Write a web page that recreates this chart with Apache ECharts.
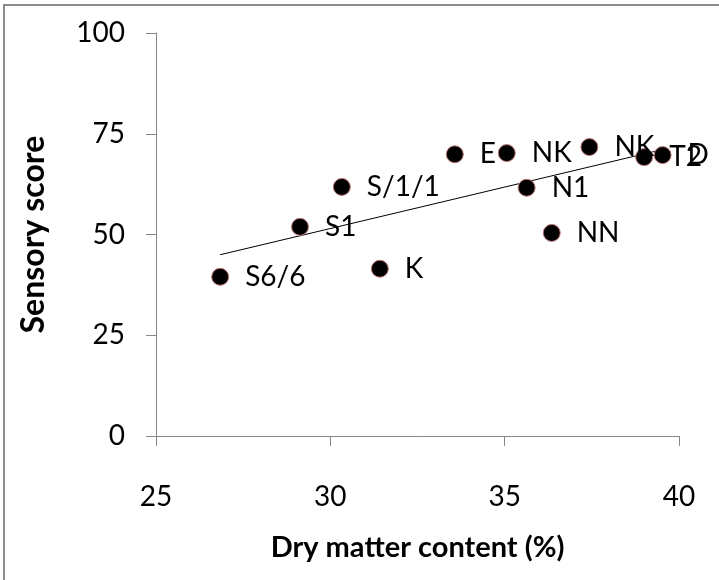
<!DOCTYPE html>
<html>
<head>
<meta charset="utf-8">
<script src="https://cdn.jsdelivr.net/npm/echarts@6/dist/echarts.min.js"></script>
<style>
html,body{margin:0;padding:0;background:#fff;}
#c{width:719px;height:580px;}
</style>
</head>
<body>
<div id="c"></div>
<script>
// Data
var labels = ['S6/6', 'S1', 'S/1/1', 'K', 'E', 'NK', 'N1', 'NN', 'NK', 'T2', 'D'];
var dryMatter = [26.84, 29.13, 30.33, 31.42, 33.57, 35.06, 35.63, 36.35, 37.43, 39.00, 39.53];
var sensory = [39.5, 51.9, 61.8, 41.5, 69.9, 70.2, 61.6, 50.4, 71.7, 69.2, 69.7];
var xTicks = [25, 30, 35, 40];
var yTicks = [0, 25, 50, 75, 100];

// Linear trend line (least squares) derived from the data
var n = dryMatter.length, mx = 0, my = 0;
for (var i = 0; i < n; i++) { mx += dryMatter[i]; my += sensory[i]; }
mx /= n; my /= n;
var sxy = 0, sxx = 0;
for (var i = 0; i < n; i++) { sxy += (dryMatter[i]-mx)*(sensory[i]-my); sxx += (dryMatter[i]-mx)*(dryMatter[i]-mx); }
var slope = sxy / sxx, icpt = my - slope * mx;
var xmin = Math.min.apply(null, dryMatter), xmax = Math.max.apply(null, dryMatter);
var trend = [[xmin, icpt + slope*xmin], [xmax, icpt + slope*xmax]];

var pts = dryMatter.map(function(x, i){ return { value: [x, sensory[i]], name: labels[i] }; });

var FONT = 'Lato';
var chart = echarts.init(document.getElementById('c'), null, {renderer: 'canvas'});
chart.setOption({
  backgroundColor: '#fff',
  animation: false,
  graphic: [{
    type: 'rect', shape: {x: 4, y: 5, width: 760, height: 620},
    style: {fill: 'none', stroke: '#8c8c8c', lineWidth: 2}, silent: true, z: -1
  }],
  grid: {left: 156, right: 40, top: 33, bottom: 144},
  xAxis: {
    type: 'value', min: xTicks[0], max: xTicks[xTicks.length-1], interval: 5,
    name: 'Dry matter content (%)', nameLocation: 'middle', nameGap: 97,
    nameTextStyle: {fontFamily: FONT, fontWeight: 'bold', fontSize: 29, color: '#000'},
    axisLine: {lineStyle: {color: '#868686', width: 1}},
    axisTick: {show: true, length: 10, lineStyle: {color: '#868686'}},
    axisLabel: {fontFamily: FONT, fontSize: 28, color: '#000', margin: 47},
    splitLine: {show: false}
  },
  yAxis: {
    type: 'value', min: yTicks[0], max: yTicks[yTicks.length-1], interval: 25,
    name: 'Sensory score', nameLocation: 'middle', nameGap: 106, nameRotate: 90,
    nameTextStyle: {fontFamily: FONT, fontWeight: 'bold', fontSize: 32, color: '#000'},
    axisLine: {show: true, lineStyle: {color: '#868686', width: 1}},
    axisTick: {show: true, length: 10, lineStyle: {color: '#868686'}},
    axisLabel: {fontFamily: FONT, fontSize: 28, color: '#000', margin: 31},
    splitLine: {show: false}
  },
  series: [{
    type: 'line', data: trend, symbol: 'none', silent: true,
    lineStyle: {color: '#000', width: 1}, z: 2
  }, {
    type: 'scatter', data: pts, symbolSize: 17,
    itemStyle: {color: '#000', borderColor: '#c07878', borderWidth: 1, opacity: 1},
    label: {show: true, position: 'right', distance: 16, formatter: '{b}',
      fontFamily: FONT, fontSize: 28, color: '#000'},
    z: 3
  }]
});
</script>
</body>
</html>
